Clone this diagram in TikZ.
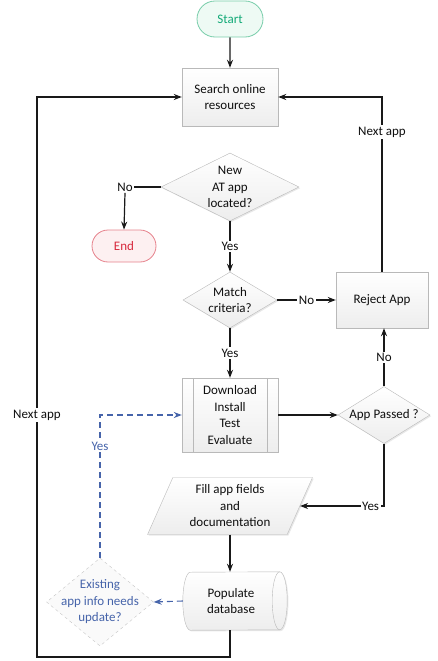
\documentclass[tikz,border=0pt]{standalone}
\usepackage{fontspec}
\setmainfont{Carlito}
\usetikzlibrary{shapes.geometric,shapes.misc,arrows.meta,shadows,calc}
\definecolor{startgreen}{RGB}{20,170,120}
\definecolor{startborder}{RGB}{120,205,170}
\definecolor{startfill}{RGB}{238,250,244}
\definecolor{endred}{RGB}{215,40,60}
\definecolor{endborder}{RGB}{230,130,140}
\definecolor{endfill}{RGB}{253,240,241}
\definecolor{dashblue}{RGB}{70,100,170}
\definecolor{boxborder}{RGB}{185,185,185}
\definecolor{txt}{RGB}{15,15,15}
\begin{document}
\begin{tikzpicture}[x=1pt,y=-1pt,
  font=\fontsize{13}{16.5}\selectfont, text=txt,
  base/.style={draw=boxborder, top color=white, bottom color=gray!14, align=center,
    drop shadow={opacity=0.18, shadow xshift=1.2pt, shadow yshift=-1.2pt}},
  procbox/.style={base, rectangle, minimum width=96, minimum height=58},
  decision/.style={base, diamond, inner sep=0pt},
  term/.style={rounded rectangle, minimum width=70, minimum height=36, inner sep=2pt},
  arr/.style={-{Stealth[length=8pt,width=6pt]}, line width=1.2pt, black!90},
  ln/.style={line width=1.2pt, black!90},
  lab/.style={fill=white, inner sep=1.5pt, text=txt},
  bluearr/.style={-{Stealth[length=8pt,width=6pt]}, line width=1.1pt, dashblue, dash pattern=on 6pt off 4pt},
  mid/.style={align=center, inner sep=0pt},
]
\useasboundingbox (0,0) rectangle (438,661);

\node[term, draw=startborder, fill=startfill, text=startgreen, line width=0.8pt] (start) at (230,19) {Start};
\node[procbox] (search) at (230,97) {Search online\\resources};
\node[decision, minimum width=138, minimum height=68, label={[mid]center:New\\AT app\\located?}] (new) at (230,187) {};
\node[lab] (nolab) at (125,187) {No};
\node[term, draw=endborder, fill=endfill, text=endred, line width=0.8pt, minimum width=68, minimum height=32] (end) at (124,246) {End};
\node[decision, minimum width=94, minimum height=56, label={[mid]center:Match\\criteria?}] (match) at (230,300) {};
\node[procbox, minimum width=92, minimum height=56] (reject) at (382,300) {Reject App};
\node[procbox, minimum width=96, minimum height=74] (download) at (230,415) {Download\\Install\\Test\\Evaluate};
\draw[boxborder] ($(download.north west)+(11,0)$) -- ($(download.south west)+(11,0)$);
\draw[boxborder] ($(download.north east)+(-11,0)$) -- ($(download.south east)+(-11,0)$);
\node[decision, minimum width=92, minimum height=57, label={[mid]center:App Passed ?}] (passed) at (384,415) {};
\node[base, trapezium, trapezium left angle=67, trapezium right angle=113, trapezium stretches=true,
  minimum width=165, minimum height=57, inner sep=0pt] (fill) at (230,506) {Fill app fields\\and\\documentation};
% database (horizontal cylinder)
\node[rectangle, minimum width=104, minimum height=58, inner sep=0pt, align=center] (db) at (235,601) {};
\path[draw=boxborder, top color=white, bottom color=gray!14,
    drop shadow={opacity=0.18, shadow xshift=1.2pt, shadow yshift=-1.2pt}]
  ($(db.north east)+(-7.5,0)$) arc[start angle=90, end angle=-90, x radius=7.5pt, y radius=29pt]
  -- ($(db.south west)+(7.5,0)$) arc[start angle=270, end angle=90, x radius=7.5pt, y radius=29pt]
  -- cycle;
\draw[boxborder] ($(db.north east)+(-7.5,0)$) arc[start angle=90, end angle=270, x radius=7.5pt, y radius=29pt];
\node[mid] at ($(db.center)+(-4,0)$) {Populate\\database};
\node[diamond, draw=gray!45, dashed, fill=gray!4, minimum width=107, minimum height=88, inner sep=0pt,
  label={[mid, text=dashblue]center:Existing\\app info needs\\update?}] (exist) at (100,602) {};

\coordinate (bl) at (37,657);

\draw[arr] (start) -- (search);
\draw[arr] (new) -- node[lab]{Yes} (match);
\draw[ln] (new.west) -- (nolab.east);
\draw[arr] (nolab.south) -- (end.north);
\draw[arr] (match) -- node[lab]{No} (reject);
\draw[arr] (match) -- node[lab]{Yes} (download);
\draw[arr] (download) -- (passed);
\draw[arr] (passed.north) -- node[lab]{No} (passed.north |- reject.south);
\draw[arr] (reject.north) |- node[lab, pos=0.4]{Next app} (search.east);
\draw[arr] (passed.south) |- node[lab, pos=0.58]{Yes} (fill.east);
\draw[arr] (fill.south) -- (fill.south |- db.north);
\draw[bluearr] (db.west) -- (exist.east);
\draw[bluearr] (exist.north) |- node[lab, text=dashblue, pos=0.39]{Yes} (download.west);
\draw[arr] (fill.south |- db.south) -- (fill.south |- bl) -- (bl) |- node[lab, pos=0.216]{Next app} (search.west);
\end{tikzpicture}
\end{document}
